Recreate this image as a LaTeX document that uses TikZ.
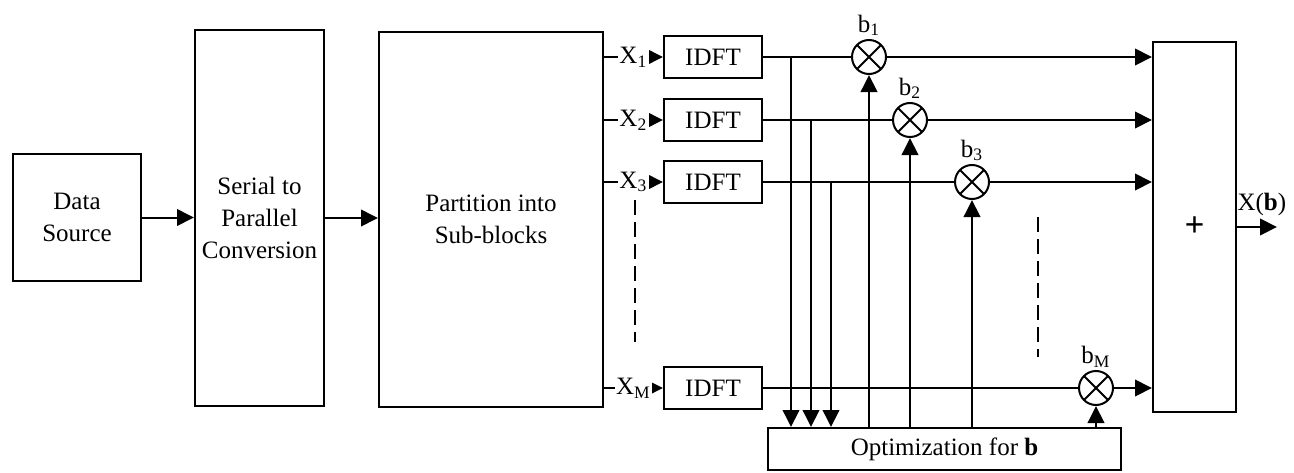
\documentclass[tikz,border=0pt]{standalone}
\usepackage{fontspec}
\setmainfont{Liberation Serif}
\usetikzlibrary{arrows.meta}

\begin{document}
\begin{tikzpicture}[
  x=0.4pt,
  y=-0.4pt,
  font=\fontsize{10}{12.7}\selectfont,
  block/.style={draw,line width=0.8pt,align=center,inner sep=0pt},
  idft/.style={block,minimum width=39.2pt,minimum height=16.8pt},
  mult/.style={circle,draw,line width=0.8pt,minimum size=13.6pt,inner sep=0pt,
    path picture={\draw[line width=0.8pt]
      (path picture bounding box.north west) -- (path picture bounding box.south east)
      (path picture bounding box.north east) -- (path picture bounding box.south west);}},
  blabel/.style={inner sep=1pt},
  link/.style={line width=0.8pt},
  arrow/.style={line width=0.8pt,-{Triangle[length=6.8pt,width=6.6pt]}},
  sublabel/.style={fill=white,inner sep=0.6pt},
  gap/.style={line width=0.8pt,dash pattern=on 6pt off 2.8pt}
]
  % Same frame as the reference artwork.
  \useasboundingbox (0,0) rectangle (1294,473);

  % Front end: source, serial to parallel, partitioning.
  \node[block,minimum width=51.2pt,minimum height=50.8pt] (src) at (77,217.5) {Data\\Source};
  \node[block,minimum width=51.6pt,minimum height=150.4pt] (s2p) at (259.5,218) {Serial to\\Parallel\\Conversion};
  \node[block,minimum width=89.6pt,minimum height=150pt] (part) at (491,219.5) {Partition into\\Sub-blocks};
  \draw[arrow] (src.east) -- (src.east -| s2p.west);
  \draw[arrow] (s2p.east) -- (s2p.east -| part.west);

  % Optimization block and summing block.
  \node[block,minimum width=141.2pt,minimum height=16.8pt] (opt) at (944.5,449) {Optimization for \textbf{b}};
  \node[block,minimum width=33.2pt,minimum height=148pt,font=\fontsize{14}{14}\selectfont] (sum) at (1194.5,227) {\textbf{+}};
  \coordinate (out) at (1277,227);
  \draw[arrow] (sum.east) -- node[above,pos=0.62,inner sep=2pt,yshift=2pt] {X(\textbf{b})} (out);

  % One branch per sub-block: IDFT, phase factor, sum.
  \foreach \i/\y/\mx in {1/57/869,2/120/910,3/182/972,M/388/1096} {
    \node[idft] (idft\i) at (713,\y) {IDFT};
    \node[mult,label={[blabel]above:b\textsubscript{\i}}] (m\i) at (\mx,\y) {};
    \draw[arrow] (part.east |- idft\i) -- node[sublabel,pos=0.5] {X\textsubscript{\i}} (idft\i.west);
    \draw[link] (idft\i.east) -- (m\i.west);
    \draw[arrow] (m\i.east) -- (m\i.east -| sum.west);
    \draw[arrow] (m\i |- opt.north) -- (m\i.south);
  }

  % Taps feeding the optimizer.
  \foreach \i/\tx in {1/791,2/811,3/831} {
    \coordinate (tap\i) at (\tx,0);
    \draw[arrow] (tap\i |- idft\i) -- (tap\i |- opt.north);
  }

  % Ellipsis marks for the omitted branches.
  \draw[gap] (635,200) -- (635,342);
  \draw[gap] (1038,217) -- (1038,357);
\end{tikzpicture}
\end{document}
